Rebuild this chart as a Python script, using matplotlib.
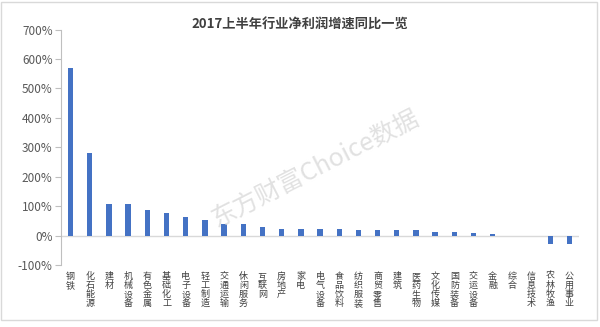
import matplotlib
matplotlib.use("Agg")
import matplotlib.pyplot as plt
from matplotlib.patches import Rectangle

plt.rcParams['font.family'] = ['Noto Sans CJK SC', 'DejaVu Sans']

# industries and H1 2017 net profit growth (%)
industries = ['钢铁', '化石能源', '建材', '机械设备', '有色金属', '基础化工', '电子设备',
              '轻工制造', '交通运输', '休闲服务', '互联网', '房地产', '家电', '电气设备',
              '食品饮料', '纺织服装', '商贸零售', '建筑', '医药生物', '文化传媒', '国防装备',
              '交运设备', '金融', '综合', '信息技术', '农林牧渔', '公用事业']
growth = [568, 282, 107, 106, 88, 78, 64, 53, 41, 40, 29, 23, 22, 22,
          22, 18, 18, 18, 18, 11, 11, 8, 4, 0, -3, -29, -29]
yticks = [-100, 0, 100, 200, 300, 400, 500, 600, 700]

fig = plt.figure(figsize=(6.0, 3.27), dpi=100)
ax = fig.add_axes([0.1017, 0.1896, 0.8633, 0.72])

x = range(len(industries))
ax.bar(x, growth, width=0.28, color='#4472C4', zorder=3)
ax.axhline(0, color='#d9d9d9', lw=1, zorder=2)

ax.set_xlim(-0.5, len(industries) - 0.5)
ax.set_ylim(-100, 700)
ax.set_yticks(yticks)
ax.set_yticklabels([f'{v}%' for v in yticks], fontsize=8.5, color='#595959')
ax.tick_params(axis='y', length=4, color='#bfbfbf', pad=2)

ax.set_xticks(list(x))
ax.set_xticklabels(['\n'.join(s) for s in industries], fontsize=6.5,
                   color='#404040', linespacing=1.0, va='top')
ax.tick_params(axis='x', length=0, pad=5)

for side in ['top', 'right', 'bottom']:
    ax.spines[side].set_visible(False)
ax.spines['left'].set_color('#bfbfbf')

fig.text(0.5, 0.925, '2017上半年行业净利润增速同比一览', ha='center', va='center',
         fontsize=9.5, fontweight='bold', color='#404040')

# watermark
fig.text(0.525, 0.485, '东方财富Choice数据', ha='center', va='center', rotation=27,
         fontsize=18, color='#dadada', alpha=0.8, zorder=0)

fig.patches.append(Rectangle((0.002, 0.0214), 0.993, 0.972, transform=fig.transFigure,
                             fill=False, edgecolor='#d9d9d9', lw=1))

fig.savefig('out.png', dpi=100)
